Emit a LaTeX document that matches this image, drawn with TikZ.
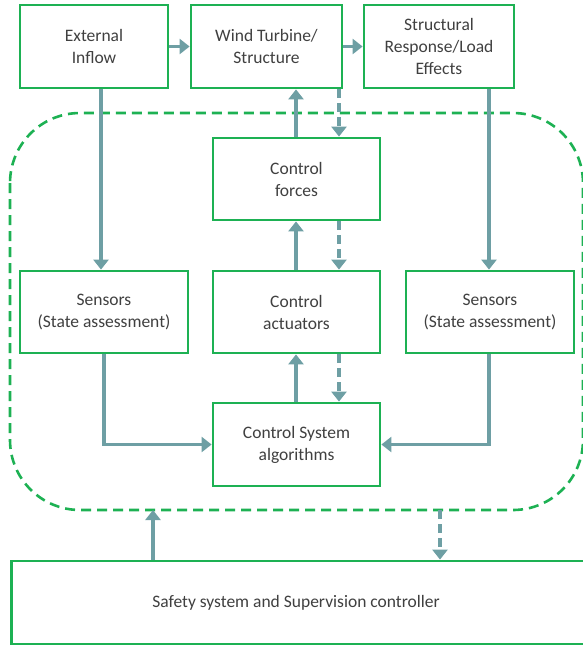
\documentclass[tikz,border=0pt]{standalone}
\usepackage{fontspec}
\setmainfont{Carlito}
\usetikzlibrary{arrows.meta}
\definecolor{boxgreen}{HTML}{1DB153}
\definecolor{flow}{HTML}{6E9FA4}
\definecolor{txt}{HTML}{404040}
\begin{document}
\begin{tikzpicture}[x=1pt,y=-1pt,
  blk/.style={draw=boxgreen,line width=2.8pt,fill=white,text=txt,align=center,
    font=\fontsize{17.5}{22}\selectfont,inner sep=0pt},
  flw/.style={draw=flow,line width=3.6pt,-{Triangle[length=10pt,width=15pt]}},
  dflw/.style={flw,dash pattern=on 9pt off 5pt}]
\useasboundingbox (0,0) rectangle (582,646);
% dashed control boundary
\draw[boxgreen,line width=2.6pt,dash pattern=on 10pt off 6pt,rounded corners=70pt]
  (10,113) rectangle (583,510);
% blocks
\node[blk,minimum width=148pt,minimum height=83pt] (ext) at (94,46.5) {External\\Inflow};
\node[blk,minimum width=151pt,minimum height=83pt] (wt) at (266.5,46.5) {Wind Turbine/\\Structure};
\node[blk,minimum width=150pt,minimum height=83pt] (sr) at (439,46.5) {Structural\\Response/Load\\Effects};
\node[blk,minimum width=167pt,minimum height=82pt] (cf) at (296.5,179) {Control\\forces};
\node[blk,minimum width=168pt,minimum height=82pt] (sl) at (104,312) {Sensors\\(State assessment)};
\node[blk,minimum width=167pt,minimum height=82pt] (ca) at (296.5,312) {Control\\actuators};
\node[blk,minimum width=168pt,minimum height=82pt] (sre) at (490,312) {Sensors\\(State assessment)};
\node[blk,minimum width=167pt,minimum height=83pt] (alg) at (296.5,444.5) {Control System\\algorithms};
\node[blk,minimum width=580pt,minimum height=83pt,anchor=west] (sup) at (10,602.5) {};
\node[text=txt,font=\fontsize{17.5}{22}\selectfont] (suptxt) at (296,602.5) {Safety system and Supervision controller};
% boundary ports
\coordinate (bin) at (153,510);
\coordinate (bout) at (440,510);
% flows
\draw[flw] (ext.east) -- (wt.west);
\draw[flw] (wt.east) -- (sr.west);
\draw[flw] (ext.south -| 101,0) -- (sl.north -| 101,0);
\draw[flw] (sr.south -| 489,0) -- (sre.north -| 489,0);
\draw[flw] (cf.north -| 296,0) -- (wt.south -| 296,0);
\draw[dflw] (wt.south -| 339,0) -- (cf.north -| 339,0);
\draw[flw] (ca.north -| 296,0) -- (cf.south -| 296,0);
\draw[dflw] (cf.south -| 339,0) -- (ca.north -| 339,0);
\draw[flw] (alg.north -| 296,0) -- (ca.south -| 296,0);
\draw[dflw] (ca.south -| 339,0) -- (alg.north -| 339,0);
\draw[flw] (sl.south) |- (alg.west);
\draw[flw] (sre.south -| 489,0) |- (alg.east);
\draw[flw] (sup.north -| bin) -- (bin);
\draw[dflw] (bout) -- (sup.north -| bout);
\end{tikzpicture}
\end{document}
